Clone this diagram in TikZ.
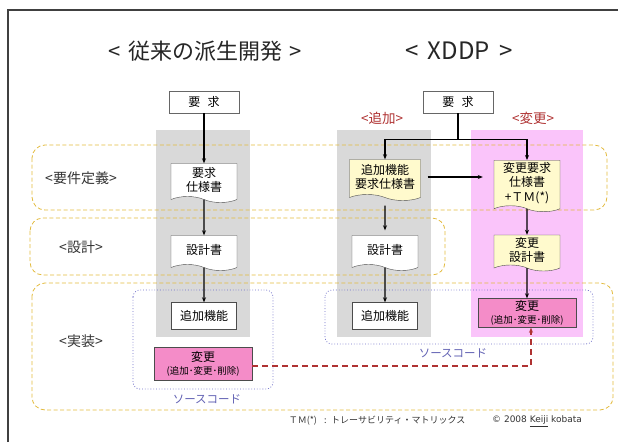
\documentclass[tikz,border=0pt]{standalone}
\usepackage{fontspec}
\setmainfont{Noto Sans CJK JP}
\newfontfamily\latinfont{DejaVu Sans}
\usepackage{tikz}
\usetikzlibrary{arrows.meta,positioning,calc,shapes.symbols}
\definecolor{framecol}{RGB}{64,64,64}
\definecolor{phasecol}{RGB}{226,186,60}
\definecolor{srccol}{RGB}{110,110,200}
\definecolor{tagred}{RGB}{175,50,50}
\definecolor{bandgray}{RGB}{217,217,217}
\definecolor{bandpink}{RGB}{250,196,250}
\definecolor{chgpink}{RGB}{244,140,200}
\definecolor{docyellow}{RGB}{255,250,205}
\tikzset{
	auto,
	title/.style={
		font=\fontsize{22}{26}\selectfont, text=black!85
	},
	%
	phase/.style={
		draw=phasecol, thick, dash pattern=on 4pt off 2.5pt, rounded corners=13pt
	},
	%
	phaselabel/.style={
		font=\fontsize{14}{16}\selectfont, text=black!80
	},
	%
	taglabel/.style={
		font=\fontsize{13.5}{15}\selectfont, text=tagred
	},
	%
	srcframe/.style={
		draw=srccol, thick, dotted, rounded corners=7pt
	},
	%
	srclabel/.style={
		font=\fontsize{11.5}{13}\selectfont, text=srccol!90!black
	},
	%
	reqbox/.style={
		rectangle, draw=black!60, fill=white, minimum width=70pt, minimum height=22pt,
		font=\fontsize{12}{14}\selectfont
	},
	%
	docbox/.style={
		tape, tape bend top=none, tape bend bottom=out and in, tape bend height=6pt,
		draw=black!70, fill=white, minimum width=66pt, minimum height=35pt,
		inner sep=2pt, align=center, font=\fontsize{12}{14.5}\selectfont
	},
	%
	plainbox/.style={
		rectangle, draw=black!70, fill=white, minimum width=65pt, minimum height=27pt,
		font=\fontsize{12}{14}\selectfont
	},
	%
	chgbox/.style={
		rectangle, draw=black!70, fill=chgpink, minimum width=98pt, minimum height=33pt,
		inner sep=1pt, align=center, font=\fontsize{12}{12.5}\selectfont
	},
	%
	flow/.style={
		draw, line width=1.1pt, -{Stealth[length=5pt,width=4pt]}
	},
	%
	feedback/.style={
		draw=tagred, line width=1.2pt, dash pattern=on 6pt off 4pt, -{Stealth[length=5pt,width=4pt]}
	},
	%
	footnote/.style={
		font=\fontsize{9}{11}\selectfont, text=black!80
	}
}

\begin{document}
\begin{tikzpicture}[x=1pt,y=-1pt]
\useasboundingbox (0,0) rectangle (618,442);
\draw[framecol, line width=1.5pt] (8,442) -- (8,10) -- (618,10);

%titles
\node (titleL) at (205,51) [title] {<\hspace{.35em}従来の派生開発\hspace{.35em}>};
\node (titleR) at (459,51) [title, font=\fontsize{24}{28}\selectfont] {<\hspace{.4em}XDDP\hspace{.4em}>};

%bands
\fill[bandgray] (156,130) rectangle (250,337);
\fill[bandgray] (337,130) rectangle (431,337);
\fill[bandpink] (471,130) rectangle (583,337);

%phases
\draw[phase] (32,145) rectangle (607,210);
\draw[phase] (30,218) rectangle (445,275);
\draw[phase] (32,283) rectangle (613,410);
\node (lblReq) at (81,178) [phaselabel] {<要件定義>};
\node (lblDes) at (81,247) [phaselabel] {<設計>};
\node (lblImp) at (81,341) [phaselabel] {<実装>};

%source code
\draw[srcframe] (133,290) rectangle (273,389);
\draw[srcframe] (325,290) rectangle (593,344);
\node (srcL) at (207,399) [srclabel] {ソースコード};
\node (srcR) at (453,353) [srclabel] {ソースコード};

%left flow
\node (reqL) at (204,102) [reqbox] {要\hspace{.6em}求};
\node (specL) at (204,180) [docbox, minimum height=39pt] {要求\\仕様書};
\node (desL) at (204,250) [docbox] {設計書};
\node (addL) at (204,316) [plainbox] {追加機能};
\node (chgL) at (203,364) [chgbox] {変更\\{\fontsize{9.5}{10}\selectfont (追加･変更･削除)}};

%right flow
\node (reqR) at (458,102) [reqbox] {要\hspace{.6em}求};
\node (tagAdd) at (382,118) [taglabel] {<追加>};
\node (tagChg) at (533,118) [taglabel] {<変更>};
\node (specA) at (385,177) [docbox, fill=docyellow, minimum width=71pt, minimum height=41pt] {追加機能\\要求仕様書};
\node (specC) at (527,183) [docbox, fill=docyellow, minimum height=51pt] {変更要求\\仕様書\\+ＴＭ(*)};
\node (desA) at (385,250) [docbox] {設計書};
\node (desC) at (527,250) [docbox, fill=docyellow, minimum height=36pt] {変更\\設計書};
\node (addR) at (385,316) [plainbox] {追加機能};
\node (chgR) at (527,313) [chgbox, minimum height=29pt] {変更\\{\fontsize{9.5}{10}\selectfont (追加･変更･削除)}};

%arrows
\draw[flow] (reqL) -- (specL);
\draw[flow] (specL) -- (desL);
\draw[flow] (desL) -- (addL);

\coordinate (split) at ($(reqR.south)+(0,26)$);
\draw[line width=1.1pt] (reqR) -- (split);
\draw[flow] (split) -| (specA);
\draw[flow] (split) -| (specC);
\draw[flow, shorten <=7pt, shorten >=11pt] (specA.east) -- (specA.east -| specC.west);
\draw[flow, shorten <=8pt, shorten >=5pt] (specA) -- (desA);
\draw[flow] (specC) -- (desC);
\draw[flow] (desA) -- (addR);
\draw[flow] (desC) -- (chgR);

\coordinate (turn) at (531,366);
\draw[feedback] (chgL.east |- turn) -- (turn) -- (turn |- chgR.south);

%footer
\node (note) at (377,421) [footnote] {ＴＭ(*)\hspace{.8em}:\hspace{.5em}トレーサビリティ・マトリックス};
\node (copy) at (537,421) [footnote, font=\latinfont\fontsize{9}{11}\selectfont] {© 2008 \underline{Keiji} kobata};
\end{tikzpicture}
\end{document}
